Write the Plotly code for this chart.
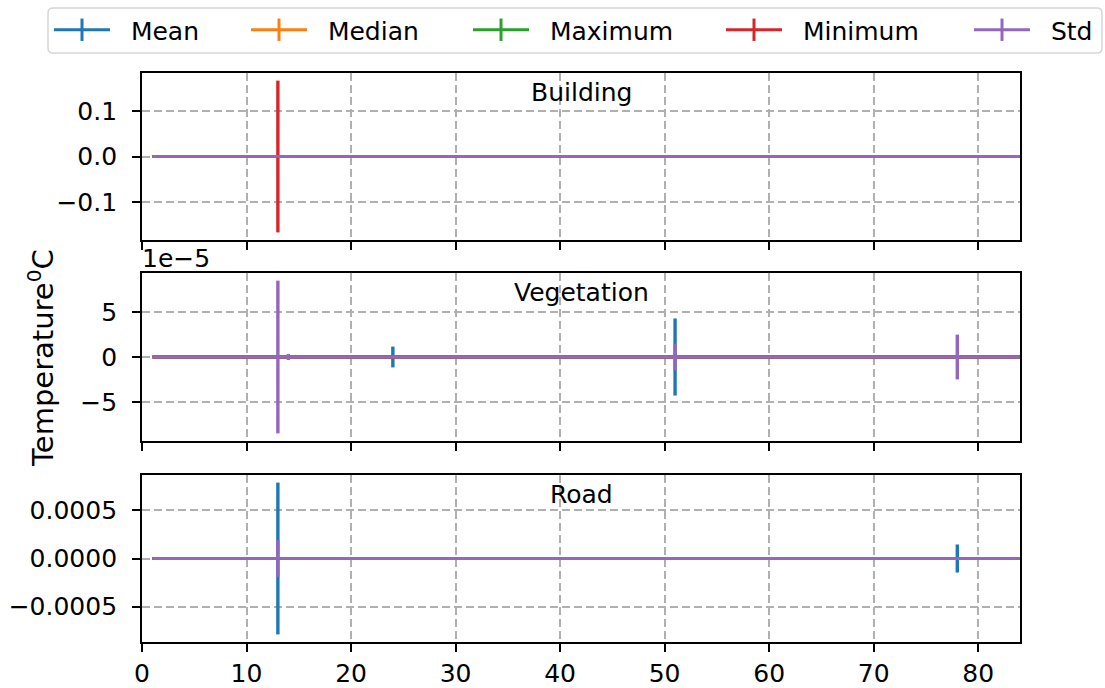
import plotly.graph_objects as go

# ---------------- data ----------------
days = list(range(1, 85))
series_names = ["Mean", "Median", "Maximum", "Minimum", "Std"]
series_colors = ["#1f77b4", "#ff7f0e", "#2ca02c", "#d62728", "#9467bd"]
panel_names = ["Building", "Vegetation", "Road"]

# all series sit on zero; only a few days carry a visible error bar
mean_level = {"Building": 0.0, "Vegetation": 0.0, "Road": 0.0}

# non-zero error-bar half-lengths: {day: value}
building_err = {
    "Mean": {}, "Median": {}, "Maximum": {},
    "Minimum": {13: 0.1665},
    "Std": {},
}
vegetation_err = {
    "Mean": {24: 1.16e-5, 51: 4.3e-5},
    "Median": {}, "Maximum": {}, "Minimum": {},
    "Std": {13: 8.52e-5, 14: 0.34e-5, 51: 1.5e-5, 78: 2.5e-5},
}
road_err = {
    "Mean": {13: 7.9e-4, 78: 1.46e-4},
    "Median": {}, "Maximum": {}, "Minimum": {},
    "Std": {13: 1.9e-4},
}
panel_errs = [building_err, vegetation_err, road_err]

x_ticks = [0, 10, 20, 30, 40, 50, 60, 70, 80]
building_ticks = [-0.1, 0.0, 0.1]
building_ticktext = ["\u22120.1", "0.0", "0.1"]
vegetation_ticks = [-5e-5, 0.0, 5e-5]
vegetation_ticktext = ["\u22125", "0", "5"]
road_ticks = [-0.0005, 0.0, 0.0005]
road_ticktext = ["\u22120.0005", "0.0000", "0.0005"]

# ---------------- figure ----------------
W, H = 1105, 688
L, R, T, B = 142, 85, 73, 46
PW, PH = W - L - R, H - T - B

def py(px):  # pixel y (from top) -> paper y
    return (H - B - px) / PH

def pxx(px):  # pixel x -> paper x
    return (px - L) / PW

FONT = "DejaVu Sans"
FS = 25
fig = go.Figure()

domains = [(py(240), py(73)), (py(441), py(273)), (py(642), py(475))]
tickinfo = [(building_ticks, building_ticktext),
            (vegetation_ticks, vegetation_ticktext),
            (road_ticks, road_ticktext)]

for i, (pname, errs) in enumerate(zip(panel_names, panel_errs)):
    axn = "" if i == 0 else str(i + 1)
    maxerr = 0.0
    for sname, col in zip(series_names, series_colors):
        e = errs[sname]
        err_arr = [e.get(d, 0.0) for d in days]
        maxerr = max(maxerr, max(err_arr))
        fig.add_trace(go.Scatter(
            x=days, y=[mean_level[pname]] * len(days),
            mode="lines", line=dict(color=col, width=2.8),
            error_y=dict(type="data", array=err_arr, visible=True,
                         color=col, thickness=3.4, width=0),
            xaxis="x" + axn, yaxis="y" + axn, showlegend=False,
            hoverinfo="skip"))
    rng = maxerr * 1.1
    tv, tt = tickinfo[i]
    fig.layout["yaxis" + axn] = dict(
        domain=list(domains[i]), range=[-rng, rng], anchor="x" + axn,
        tickvals=tv, ticktext=tt, ticks="outside", ticklen=8, tickwidth=1.6,
        tickcolor="black", showline=True, linecolor="black", linewidth=1.8,
        mirror=True, showgrid=True, gridcolor="#b0b0b0", gridwidth=1.6,
        griddash="8px,4px", zeroline=False, ticklabelstandoff=10,
        automargin=False,
        tickfont=dict(family=FONT, size=FS, color="black"))
    fig.layout["xaxis" + axn] = dict(
        domain=[0, 1], range=[0, 84], anchor="y" + axn,
        tickvals=x_ticks, showticklabels=(i == 2), ticks="outside",
        ticklen=8, tickwidth=1.6, tickcolor="black", showline=True,
        linecolor="black", linewidth=1.8, mirror=True, showgrid=True,
        gridcolor="#b0b0b0", gridwidth=1.6, griddash="8px,4px",
        zeroline=False, ticklabelstandoff=0, automargin=False,
        tickfont=dict(family=FONT, size=FS, color="black"))
    # panel title inside the axes
    fig.add_annotation(x=0.5, y=domains[i][1], xref="paper", yref="paper",
                       text=pname, showarrow=False, xanchor="center",
                       yanchor="top", yshift=-3,
                       font=dict(family=FONT, size=FS, color="black"))

# offset text of the middle panel
fig.add_annotation(x=0, y=py(273), xref="paper", yref="paper", text="1e\u22125",
                   showarrow=False, xanchor="left", yanchor="bottom", xshift=-2,
                   yshift=-2, font=dict(family=FONT, size=FS, color="black"))

# shared y label
fig.add_annotation(x=pxx(41), y=py(358), xref="paper", yref="paper",
                   text="Temperature<sup>0</sup>C", textangle=-90,
                   showarrow=False, xanchor="center", yanchor="middle",
                   font=dict(family=FONT, size=29, color="black"))

# legend: one legend per entry so the entries spread like the original
legend_px = [57, 254, 476, 729, 977]
for k, (sname, col) in enumerate(zip(series_names, series_colors)):
    lname = "legend" if k == 0 else "legend%d" % (k + 1)
    fig.add_trace(go.Scatter(
        x=[None], y=[None], mode="lines+markers", name="\u00a0\u00a0" + sname,
        line=dict(color=col, width=3),
        marker=dict(symbol="line-ns-open", size=26, color=col,
                    line=dict(color=col, width=3)),
        legend=lname, showlegend=True, xaxis="x", yaxis="y"))
    fig.layout[lname] = dict(
        x=pxx(legend_px[k] - 8), y=py(30), xanchor="left", yanchor="middle",
        orientation="h", bgcolor="rgba(0,0,0,0)", borderwidth=0,
        itemwidth=56, font=dict(family=FONT, size=FS, color="black"))

# legend frame with rounded corners
x0, x1 = pxx(48), pxx(1102)
y0, y1 = py(53), py(8)
rx, ry = 5 / PW, 5 / PH
path = (f"M{x0+rx},{y1} L{x1-rx},{y1} Q{x1},{y1} {x1},{y1-ry} "
        f"L{x1},{y0+ry} Q{x1},{y0} {x1-rx},{y0} L{x0+rx},{y0} "
        f"Q{x0},{y0} {x0},{y0+ry} L{x0},{y1-ry} Q{x0},{y1} {x0+rx},{y1} Z")
fig.add_shape(type="path", path=path, xref="paper", yref="paper",
              line=dict(color="#d6d6d6", width=1.5), fillcolor="rgba(255,255,255,0.8)",
              layer="below")

fig.update_layout(
    width=W, height=H,
    margin=dict(l=L, r=R, t=T, b=B, autoexpand=False),
    paper_bgcolor="white", plot_bgcolor="white",
    font=dict(family=FONT, size=FS, color="black"),
)

fig.write_html("out.html", config={"displayModeBar": False},
               post_script="document.body.style.margin='0';"
                           "document.body.style.overflow='hidden';")
